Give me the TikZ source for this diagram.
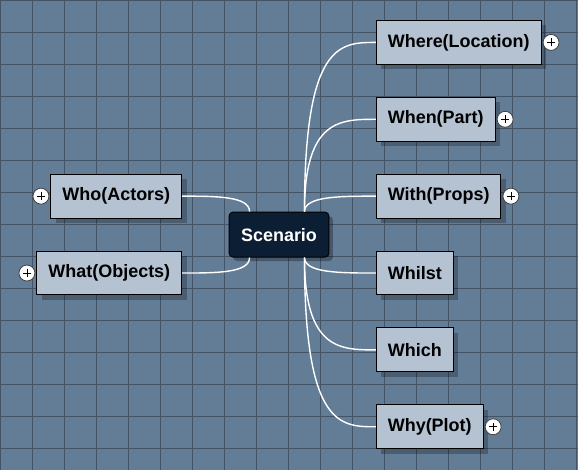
\documentclass[tikz,border=0pt]{standalone}
\usepackage{fontspec}
\setmainfont{Liberation Sans}
\usetikzlibrary{shadows,calc}
\definecolor{bgc}{RGB}{99,125,151}
\definecolor{gridc}{RGB}{67,84,103}
\definecolor{boxc}{RGB}{180,194,210}
\definecolor{cenc}{RGB}{12,30,52}
\newcommand\mmconn[2]{\draw[conn] (#1) .. controls (#1 |- #2) and ($(#1 |- #2)!0.5!(#2)$) .. (#2);}
\begin{document}
\begin{tikzpicture}[x=1pt,y=-1pt,
  topic/.style={draw=black, line width=1pt, fill=boxc, minimum height=44pt,
    inner xsep=11.5pt, inner ysep=0pt, text=black,
    font=\bfseries\fontsize{18}{20}\selectfont,
    drop shadow={shadow xshift=5pt, shadow yshift=-5pt, fill=black, opacity=0.25}},
  central/.style={draw=black, line width=1pt, fill=cenc, rounded corners=4pt,
    minimum width=100pt, minimum height=45pt, inner sep=0pt, text=white,
    font=\bfseries\fontsize{18}{20}\selectfont,
    drop shadow={shadow xshift=4pt, shadow yshift=-4pt, fill=black, opacity=0.3}},
  plusbtn/.style={circle, draw=black!75, fill=white, line width=0.8pt,
    minimum size=16pt, inner sep=0pt,
    path picture={\draw[black, line width=0.7pt]
      (path picture bounding box.center) ++(-4pt,0) -- ++(8pt,0)
      (path picture bounding box.center) ++(0,-4pt) -- ++(0,8pt);}},
  conn/.style={draw=white, line width=1.4pt}]
\fill[bgc] (0,0) rectangle (578,470);
\foreach \x in {0,32,...,576} \draw[gridc, line width=1pt] (\x+0.5,0) -- (\x+0.5,470);
\foreach \y in {0,32,...,448} \draw[gridc, line width=1pt] (0,\y+0.5) -- (578,\y+0.5);
\useasboundingbox (0,0) rectangle (578,470);

\node[topic, anchor=west] (where) at (376,42) {Where(Location)};
\node[topic, anchor=west] (when) at (376,119) {When(Part)};
\node[topic, anchor=west] (with) at (376,196) {With(Props)};
\node[topic, anchor=west] (whilst) at (376,273) {Whilst};
\node[topic, anchor=west] (which) at (376,350) {Which};
\node[topic, anchor=west] (why) at (376,427) {Why(Plot)};
\node[topic, anchor=east] (who) at (182,196) {Who(Actors)};
\node[topic, anchor=east] (what) at (182,273) {What(Objects)};
\node[central] (scen) at (279,234.5) {Scenario};

\coordinate (rt) at ($(scen.north east)+(-25,0)$);
\coordinate (rb) at ($(scen.south east)+(-25,0)$);
\coordinate (lt) at ($(scen.north west)+(21,0)$);
\coordinate (lb) at ($(scen.south west)+(21,0)$);

\mmconn{rt}{where.west}
\mmconn{rt}{when.west}
\mmconn{rt}{with.west}
\mmconn{rb}{whilst.west}
\mmconn{rb}{which.west}
\mmconn{rb}{why.west}
\mmconn{lt}{who.east}
\mmconn{lb}{what.east}

\node[plusbtn] (pwhere) at ($(where.east)+(9.5,0)$) {};
\node[plusbtn] (pwhen) at ($(when.east)+(9.5,0)$) {};
\node[plusbtn] (pwith) at ($(with.east)+(9.5,0)$) {};
\node[plusbtn] (pwhy) at ($(why.east)+(9.5,0)$) {};
\node[plusbtn] (pwho) at ($(who.west)+(-9.5,0)$) {};
\node[plusbtn] (pwhat) at ($(what.west)+(-9.5,0)$) {};
\end{tikzpicture}
\end{document}
